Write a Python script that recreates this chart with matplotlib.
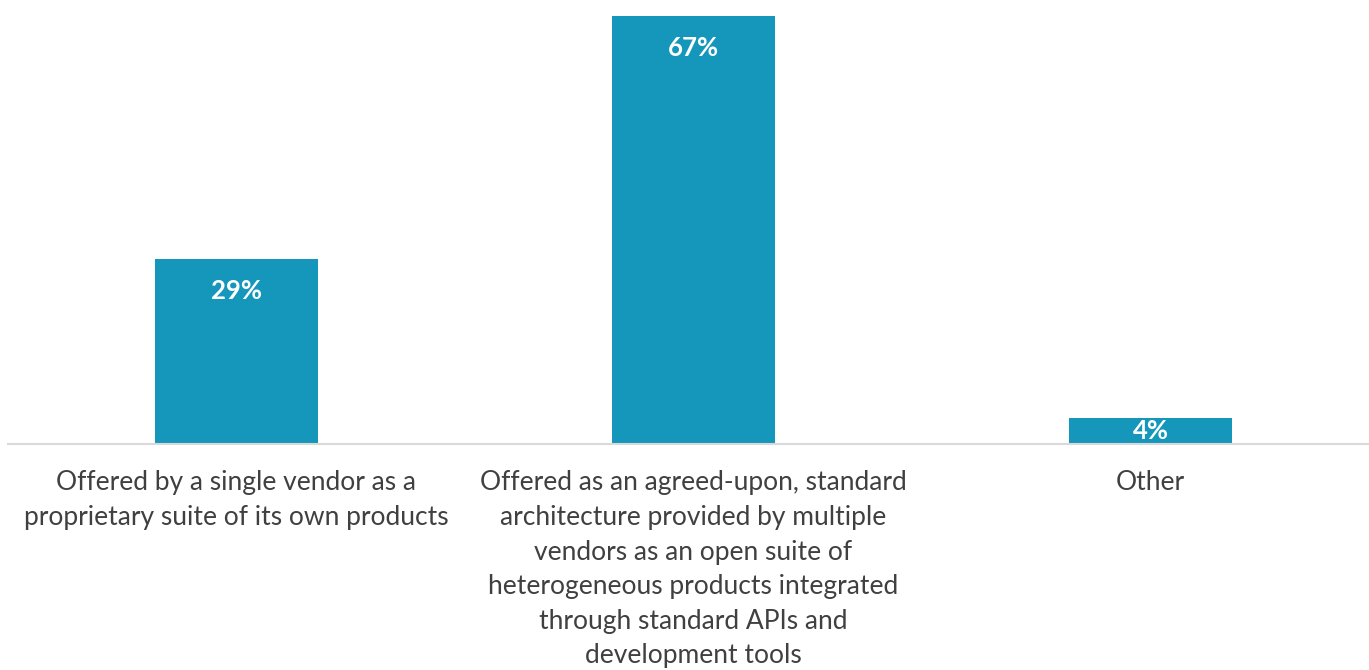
import matplotlib.pyplot as plt

categories = [
    'Offered by a single vendor as a\nproprietary suite of its own products',
    'Offered as an agreed-upon, standard\narchitecture provided by multiple\nvendors as an open suite of\nheterogeneous products integrated\nthrough standard APIs and\ndevelopment tools',
    'Other',
]
values = [29, 67, 4]
value_labels = ['29%', '67%', '4%']

bar_color = '#1596BB'
text_color = '#404040'

plt.rcParams['font.family'] = ['Lato', 'DejaVu Sans']

fig = plt.figure(figsize=(13.69, 6.70), dpi=100)
ax = fig.add_axes([8 / 1369, 1 - 444 / 670, 1371 / 1369, 444 / 670])

x = range(len(values))
bars = ax.bar(x, values, width=0.355, color=bar_color, zorder=2)

ax.set_xlim(-0.5, 2.5)
ax.set_ylim(0, 69.5)

for bar, val, lab in zip(bars, values, value_labels):
    cx = bar.get_x() + bar.get_width() / 2
    if val < 10:
        ax.text(cx, val / 2, lab, ha='center', va='center', color='white',
                fontsize=18.5, fontweight='bold')
    else:
        ax.annotate(lab, (cx, val), xytext=(0, -23), textcoords='offset points',
                    ha='center', va='center', color='white',
                    fontsize=18.5, fontweight='bold')

ax.set_xticks(list(x))
ax.set_xticklabels(categories, color=text_color, fontsize=19, linespacing=1.48,
                   va='top')
ax.tick_params(axis='x', length=0, pad=19)
ax.set_yticks([])

for side in ['top', 'right', 'left']:
    ax.spines[side].set_visible(False)
ax.spines['bottom'].set_color('#d9d9d9')
ax.spines['bottom'].set_linewidth(1.5)

fig.savefig('out.png', dpi=100)
